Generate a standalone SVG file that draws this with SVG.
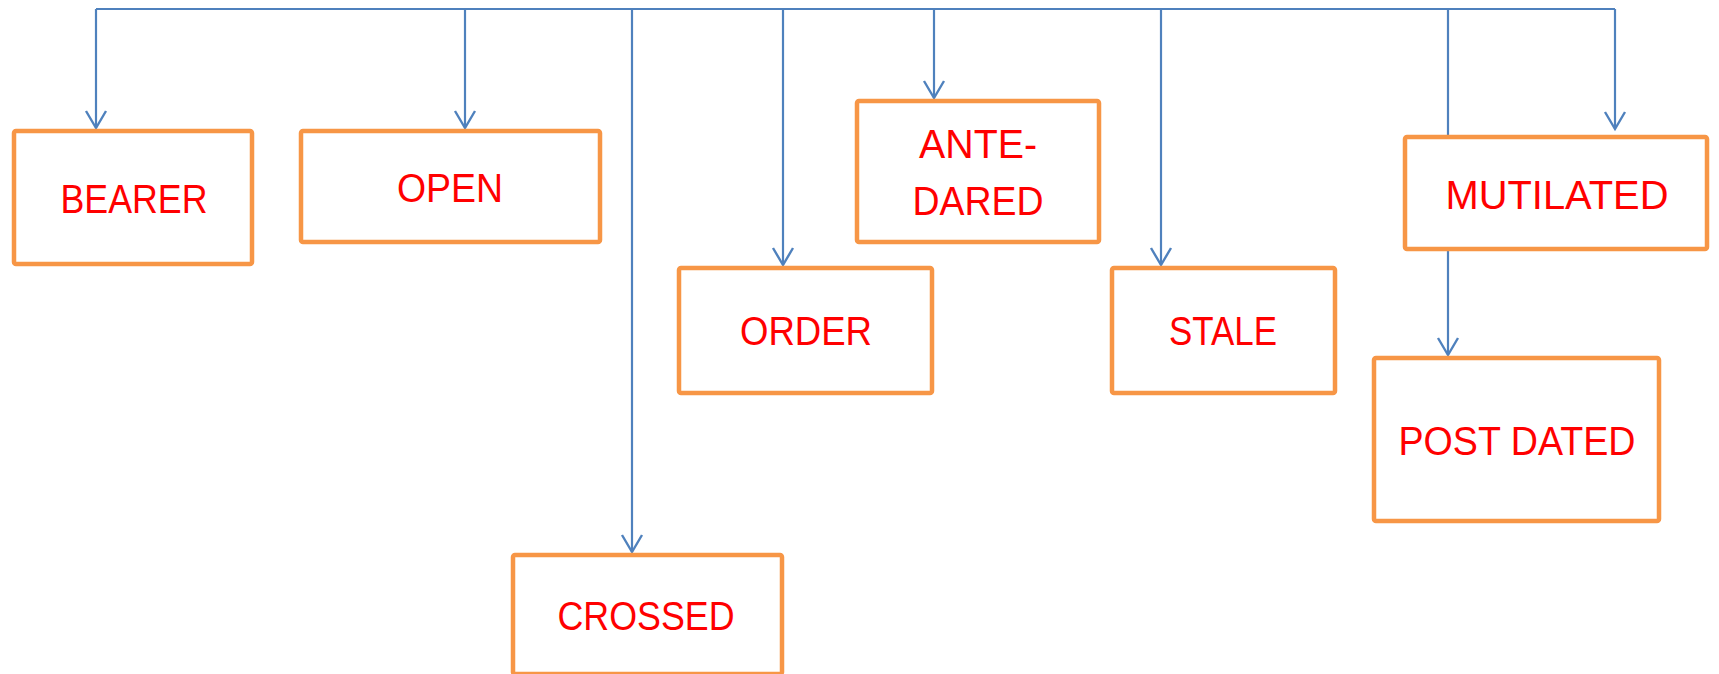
<svg xmlns="http://www.w3.org/2000/svg" width="1719" height="674" viewBox="0 0 1719 674">
<style>
.box{fill:#fff;stroke:#F79646;stroke-width:4.5}
.lbl{fill:#FF0000;font-family:"Liberation Sans",Arial,sans-serif;font-size:40px;text-anchor:middle}
.con{fill:none;stroke:#4F81BD;stroke-width:2.2}
</style>
<defs>
<marker id="arr" markerUnits="userSpaceOnUse" markerWidth="30" markerHeight="30" refX="0" refY="0" orient="auto" overflow="visible">
<path d="M-17,-10 L0,0 L-17,10" fill="none" stroke="#4F81BD" stroke-width="2.4"/>
</marker>
</defs>
<rect width="1719" height="674" fill="#fff"/>
<g id="connectors">
<path class="con" d="M96,9 H1615"/>
<path class="con" d="M96,9 V128" marker-end="url(#arr)"/>
<path class="con" d="M465,9 V128" marker-end="url(#arr)"/>
<path class="con" d="M632,9 V552" marker-end="url(#arr)"/>
<path class="con" d="M783,9 V265" marker-end="url(#arr)"/>
<path class="con" d="M934,9 V98" marker-end="url(#arr)"/>
<path class="con" d="M1161,9 V265" marker-end="url(#arr)"/>
<path class="con" d="M1615,9 V129" marker-end="url(#arr)"/>
<path class="con" d="M1448,9 V355" marker-end="url(#arr)"/>
</g>
<g id="bearer"><rect class="box" x="14" y="131" width="238" height="133" rx="2"/><text class="lbl" x="134" y="213" textLength="147" lengthAdjust="spacingAndGlyphs">BEARER</text></g>
<g id="open"><rect class="box" x="301" y="131" width="299" height="111" rx="2"/><text class="lbl" x="450" y="202" textLength="106" lengthAdjust="spacingAndGlyphs">OPEN</text></g>
<g id="crossed"><rect class="box" x="513" y="555" width="269" height="119" rx="2"/><text class="lbl" x="646" y="630" textLength="177" lengthAdjust="spacingAndGlyphs">CROSSED</text></g>
<g id="order"><rect class="box" x="679" y="268" width="253" height="125" rx="2"/><text class="lbl" x="806" y="345" textLength="132" lengthAdjust="spacingAndGlyphs">ORDER</text></g>
<g id="ante-dared"><rect class="box" x="857" y="101" width="242" height="141" rx="2"/><text class="lbl" x="978" y="158" textLength="118" lengthAdjust="spacingAndGlyphs">ANTE-</text><text class="lbl" x="978" y="215" textLength="131" lengthAdjust="spacingAndGlyphs">DARED</text></g>
<g id="stale"><rect class="box" x="1112" y="268" width="223" height="125" rx="2"/><text class="lbl" x="1223" y="345" textLength="108" lengthAdjust="spacingAndGlyphs">STALE</text></g>
<g id="mutilated"><rect class="box" x="1405" y="137" width="302" height="112" rx="2"/><text class="lbl" x="1557" y="209" textLength="223" lengthAdjust="spacingAndGlyphs">MUTILATED</text></g>
<g id="post-dated"><rect class="box" x="1374" y="358" width="285" height="163" rx="2"/><text class="lbl" x="1517" y="455" textLength="237" lengthAdjust="spacingAndGlyphs">POST DATED</text></g>
</svg>
